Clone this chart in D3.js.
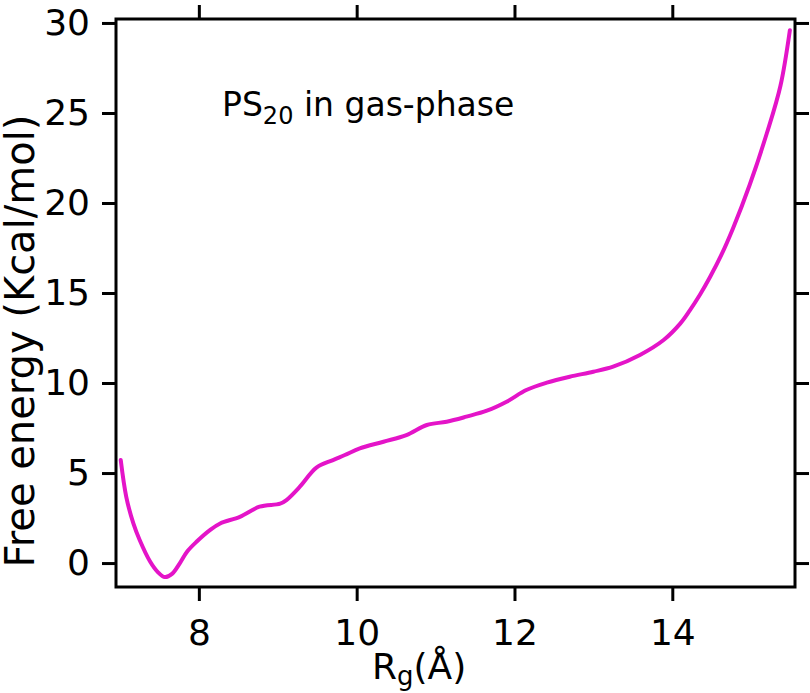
<!DOCTYPE html>
<html>
<head>
<meta charset="utf-8">
<script src="https://cdn.jsdelivr.net/npm/d3@7"></script>
<style>
  body { margin: 0; background: #fff; overflow: hidden; }
  svg { display: block; }
  text { font-family: "DejaVu Sans", sans-serif; fill: #000; }
</style>
</head>
<body>
<div id="chart"></div>
<script>
// free energy profile of PS20 in gas phase

// data
const rg = [7.01, 7.08, 7.17, 7.25, 7.38, 7.48, 7.57, 7.66, 7.76, 7.85, 7.97, 8.14, 8.27,
    8.52, 8.77, 9.03, 9.11, 9.28, 9.49, 9.70, 9.85, 10.04, 10.34, 10.63, 10.89,
    11.14, 11.39, 11.65, 11.90, 12.15, 12.41, 12.70, 13.00, 13.25, 13.59, 13.89,
    14.10, 14.22, 14.35, 14.48, 14.62, 14.77, 14.98, 15.20, 15.37, 15.49];
const freeEnergy = [5.72, 3.68, 2.2, 1.28, 0.1, -0.5, -0.78, -0.6, 0.0, 0.63, 1.18, 1.83, 2.2,
    2.57, 3.13, 3.3, 3.5, 4.24, 5.3, 5.72, 6.0, 6.37, 6.74, 7.11, 7.67,
    7.85, 8.13, 8.46, 8.96, 9.61, 10.02, 10.35, 10.63, 10.91, 11.56, 12.39,
    13.3, 14.02, 14.9, 15.9, 17.1, 18.6, 21.0, 23.9, 26.5, 29.6];
const xTicks = [8, 10, 12, 14];
const yTicks = [0, 5, 10, 15, 20, 25, 30];

const width = 810, height = 693;
const margin = { top: 19, right: 15, bottom: 106, left: 116 };
const innerWidth = width - margin.left - margin.right;
const innerHeight = height - margin.top - margin.bottom;

const lineColour = "#e414c8";

const svg = d3.select("#chart")
    .append("svg")
    .attr("width", width)
    .attr("height", height);

const innerChart = svg.append("g")
    .attr("transform", `translate(${margin.left},${margin.top})`);

// =============================
// scales
// =============================
const xScale = d3.scaleLinear()
    .domain([6.95, 15.555])
    .range([0, innerWidth]);

const yScale = d3.scaleLinear()
    .domain([-1.33, 30.22])
    .range([innerHeight, 0]);

// =============================
// axes (ticks outward on all four sides)
// =============================
const tickLen = 14;

const styleAxis = (g) => {
    g.select(".domain").remove();
    g.selectAll(".tick line").attr("stroke", "#000").attr("stroke-width", 3);
    g.selectAll(".tick text").style("font-size", "36px").attr("fill", "#000");
};

innerChart.append("g")
    .attr("transform", `translate(0,${innerHeight})`)
    .call(d3.axisBottom(xScale).tickValues(xTicks).tickSize(tickLen).tickPadding(18).tickFormat(d3.format("d")))
    .call(styleAxis);

innerChart.append("g")
    .call(d3.axisLeft(yScale).tickValues(yTicks).tickSize(tickLen).tickPadding(12).tickFormat(d3.format("d")))
    .call(styleAxis);

// mirrored ticks, no labels
innerChart.append("g")
    .call(d3.axisTop(xScale).tickValues(xTicks).tickSize(tickLen))
    .call(styleAxis)
    .call(g => g.selectAll(".tick text").remove());

innerChart.append("g")
    .attr("transform", `translate(${innerWidth},0)`)
    .call(d3.axisRight(yScale).tickValues(yTicks).tickSize(tickLen))
    .call(styleAxis)
    .call(g => g.selectAll(".tick text").remove());

// frame
innerChart.append("rect")
    .attr("width", innerWidth)
    .attr("height", innerHeight)
    .attr("fill", "none")
    .attr("stroke", "#000")
    .attr("stroke-width", 3);

// =============================
// curve
// =============================
const points = rg.map((x, i) => [x, freeEnergy[i]]);

const line = d3.line()
    .x(d => xScale(d[0]))
    .y(d => yScale(d[1]))
    .curve(d3.curveCatmullRom.alpha(0.5));

innerChart.append("path")
    .datum(points)
    .attr("d", line)
    .attr("fill", "none")
    .attr("stroke", lineColour)
    .attr("stroke-width", 4)
    .attr("stroke-linejoin", "round")
    .attr("stroke-linecap", "round");

// =============================
// labels
// =============================
const annot = svg.append("text")
    .attr("x", 222)
    .attr("y", 116)
    .style("font-size", "33px");
annot.append("tspan").text("PS");
annot.append("tspan").text("20").attr("dy", 8).style("font-size", "24px");
annot.append("tspan").text(" in gas-phase").attr("dy", -8);

const xLabel = svg.append("text")
    .attr("x", 372)
    .attr("y", 679)
    .style("font-size", "36px");
xLabel.append("tspan").text("R");
xLabel.append("tspan").text("g").attr("dy", 6).style("font-size", "26px");
xLabel.append("tspan").text("(Å)").attr("dy", -6);

svg.append("text")
    .text("Free energy (Kcal/mol)")
    .attr("text-anchor", "middle")
    .attr("transform", `translate(34,341) rotate(-90)`)
    .style("font-size", "40px");
</script>
</body>
</html>
